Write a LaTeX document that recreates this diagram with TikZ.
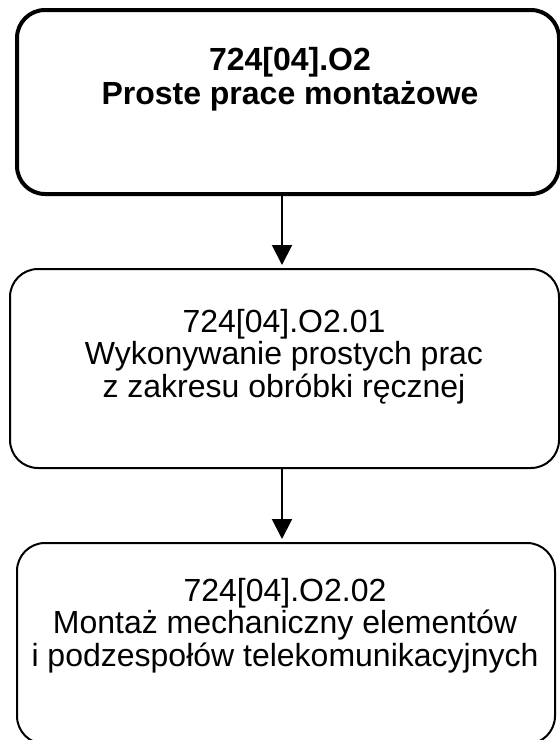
\documentclass[tikz,border=0pt]{standalone}
\usepackage{fontspec}
\setmainfont{Liberation Sans}
\usetikzlibrary{arrows.meta}
\begin{document}
\begin{tikzpicture}[x=1pt,y=-1pt,
  box/.style={draw, rectangle, rounded corners=28pt, line width=2pt, inner sep=0pt},
  lbl/.style={align=center, inner sep=0pt, anchor=base, font=\fontsize{32}{32.5}\selectfont},
  arr/.style={line width=2pt, shorten >=3pt, -{Triangle[length=20pt,width=20pt]}}]
\clip (0,0) rectangle (560,740);
\useasboundingbox (0,0) rectangle (560,740);
\node[box, line width=4pt, minimum width=542pt, minimum height=184pt] (b1) at (288,102) {};
\node[box, minimum width=549pt, minimum height=199pt] (b2) at (284.5,368.5) {};
\node[box, minimum width=538pt, minimum height=201pt] (b3) at (286,643.5) {};
\node[lbl, font=\fontsize{32}{34}\selectfont\bfseries] (t1) at (290,104) {724[04].O2\\Proste prace montażowe};
\node[lbl] (t2) at (284,397) {724[04].O2.01\\Wykonywanie prostych prac\\z zakresu obróbki ręcznej};
\node[lbl] (t3) at (285,666) {724[04].O2.02\\Montaż mechaniczny elementów\\i podzespołów telekomunikacyjnych};
\coordinate (ax) at (282,0);
\draw[arr] (b1.south -| ax) -- (b2.north -| ax);
\draw[arr] (b2.south -| ax) -- (b3.north -| ax);
\end{tikzpicture}
\end{document}
